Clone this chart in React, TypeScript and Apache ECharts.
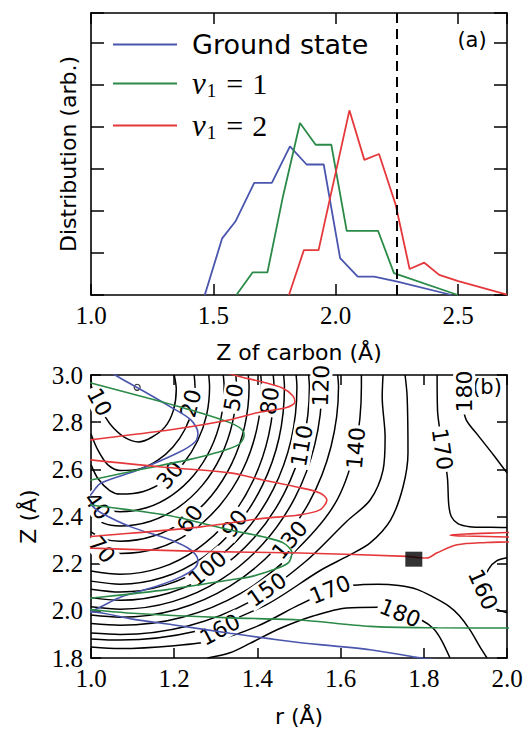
import React, { useEffect, useRef } from 'react';
import * as echarts from 'echarts';

// ---------- Panel (a): distributions vs Z of carbon ----------
const groundState: [number, number][] = [
  [1.465, 0], [1.536, 1.35], [1.59, 1.75], [1.667, 2.67], [1.739, 2.67], [1.813, 3.54],
  [1.881, 3.11], [1.951, 3.11], [2.018, 0.88], [2.09, 0.44], [2.157, 0.44], [2.252, 0.32], [2.474, 0],
];
const v1Equal1: [number, number][] = [
  [1.594, 0], [1.661, 0.54], [1.721, 0.54], [1.783, 2.31], [1.854, 4.1], [1.918, 3.58],
  [1.982, 3.58], [2.045, 1.53], [2.11, 1.53], [2.173, 1.53], [2.238, 0.52], [2.499, 0],
];
const v1Equal2: [number, number][] = [
  [1.809, 0], [1.87, 1.07], [1.93, 1.07], [2.056, 4.4], [2.117, 3.22], [2.177, 3.36],
  [2.245, 2.15], [2.302, 0.62], [2.362, 0.77], [2.423, 0.48], [2.501, 0.33], [2.7, 0.01],
];
const dashedZ = 2.25;
const legendNames = ['Ground state', 'v1 = 1', 'v1 = 2'];

// ---------- Panel (b): contour map (r, Z) ----------
const c10: [number, number][] = [[1.2, 3.0], [1.205, 2.94], [1.198, 2.85], [1.178, 2.78], [1.145, 2.735], [1.114, 2.716], [1.083, 2.733], [1.054, 2.775], [1.035, 2.82], [1.018, 2.88], [1.005, 2.935], [1.0, 2.955]];
const c20: [number, number][] = [[1.0, 2.75], [1.017, 2.68], [1.04, 2.62], [1.07, 2.595], [1.117, 2.602], [1.16, 2.638], [1.197, 2.695], [1.226, 2.77], [1.244, 2.857], [1.25, 2.95], [1.248, 3.0]];
const c30: [number, number][] = [[1.0, 2.62], [1.017, 2.56], [1.045, 2.51], [1.07, 2.495], [1.126, 2.506], [1.178, 2.552], [1.222, 2.625], [1.256, 2.72], [1.278, 2.831], [1.285, 2.95], [1.283, 3.0]];
const c40: [number, number][] = [[1.0, 2.49], [1.014, 2.45], [1.035, 2.43], [1.07, 2.42], [1.135, 2.438], [1.195, 2.491], [1.247, 2.575], [1.287, 2.685], [1.312, 2.813], [1.32, 2.95], [1.318, 3.0]];
const c50: [number, number][] = [[1.0, 2.41], [1.03, 2.372], [1.07, 2.36], [1.143, 2.38], [1.21, 2.439], [1.268, 2.533], [1.312, 2.655], [1.34, 2.797], [1.35, 2.95], [1.348, 3.0]];
const c60: [number, number][] = [[1.0, 2.335], [1.03, 2.305], [1.07, 2.295], [1.15, 2.317], [1.225, 2.383], [1.289, 2.487], [1.338, 2.623], [1.369, 2.78], [1.38, 2.95], [1.378, 3.0]];
const c70: [number, number][] = [[1.0, 2.285], [1.026, 2.258], [1.07, 2.243], [1.158, 2.264], [1.24, 2.335], [1.31, 2.448], [1.364, 2.595], [1.398, 2.766], [1.41, 2.95], [1.408, 3.0]];
const c80: [number, number][] = [[1.0, 2.169], [1.07, 2.155], [1.166, 2.182], [1.255, 2.262], [1.332, 2.388], [1.39, 2.553], [1.427, 2.744], [1.44, 2.95], [1.438, 3.0]];
const c90: [number, number][] = [[1.0, 2.126], [1.07, 2.113], [1.172, 2.141], [1.268, 2.225], [1.349, 2.358], [1.412, 2.532], [1.452, 2.733], [1.465, 2.95], [1.463, 3.0]];
const c100: [number, number][] = [[1.0, 2.092], [1.07, 2.08], [1.18, 2.11], [1.283, 2.197], [1.37, 2.335], [1.438, 2.515], [1.481, 2.725], [1.495, 2.95], [1.493, 3.0]];
const c110: [number, number][] = [[1.0, 2.056], [1.07, 2.045], [1.188, 2.076], [1.298, 2.166], [1.392, 2.31], [1.464, 2.497], [1.51, 2.716], [1.525, 2.95], [1.523, 3.0]];
const c120: [number, number][] = [[1.0, 2.017], [1.07, 2.007], [1.196, 2.039], [1.313, 2.133], [1.413, 2.283], [1.49, 2.479], [1.538, 2.706], [1.555, 2.95], [1.553, 3.0]];
const c130: [number, number][] = [[1.0, 1.982], [1.07, 1.973], [1.206, 2.006], [1.333, 2.104], [1.441, 2.259], [1.525, 2.462], [1.577, 2.697], [1.595, 2.95], [1.593, 3.0]];
const c140: [number, number][] = [[1.0, 1.946], [1.07, 1.939], [1.22, 1.973], [1.36, 2.074], [1.48, 2.235], [1.585, 2.45], [1.635, 2.69], [1.65, 2.95], [1.65, 3.0]];
const c150: [number, number][] = [[1.0, 1.906], [1.07, 1.9], [1.233, 1.936], [1.385, 2.041], [1.515, 2.208], [1.615, 2.38], [1.671, 2.47], [1.702, 2.597], [1.707, 2.737], [1.7, 2.907], [1.702, 3.0]];
const c160: [number, number][] = [[1.0, 1.881], [1.07, 1.876], [1.249, 1.912], [1.415, 2.02], [1.55, 2.17], [1.62, 2.235], [1.671, 2.288], [1.72, 2.385], [1.75, 2.525], [1.762, 2.67], [1.76, 2.907], [1.755, 3.0]];
const c170Low: [number, number][] = [[1.0, 1.847], [1.07, 1.84], [1.2, 1.852], [1.3, 1.875], [1.4, 1.935], [1.5, 2.025], [1.575, 2.085], [1.63, 2.108], [1.69, 2.113], [1.74, 2.107], [1.785, 2.09], [1.822, 2.059], [1.86, 2.02], [1.885, 1.98], [1.911, 1.919], [1.935, 1.847], [1.952, 1.8]];
const c180Low: [number, number][] = [[1.28, 1.8], [1.334, 1.822], [1.382, 1.862], [1.454, 1.925], [1.534, 1.978], [1.615, 2.012], [1.69, 2.015], [1.745, 1.995], [1.795, 1.96], [1.823, 1.925], [1.842, 1.877], [1.863, 1.8]];
const c170High: [number, number][] = [[1.832, 3.0], [1.833, 2.85], [1.84, 2.75], [1.85, 2.65], [1.857, 2.56], [1.86, 2.45], [1.866, 2.4], [1.882, 2.37], [1.91, 2.357], [1.96, 2.354], [2.0, 2.353]];
const c180High: [number, number][] = [[1.888, 3.0], [1.893, 2.88], [1.902, 2.81], [1.93, 2.745], [1.968, 2.66], [2.0, 2.585]];
const c160Right: [number, number][] = [[2.0, 2.225], [1.975, 2.212], [1.957, 2.18], [1.943, 2.12], [1.945, 2.06], [1.962, 2.02], [1.985, 2.0], [2.0, 1.992]];
const contourLines = [c10, c20, c30, c40, c50, c60, c70, c80, c90, c100, c110, c120, c130, c140, c150, c160, c170Low, c180Low, c170High, c180High, c160Right];

const labelTexts = ['10', '20', '30', '40', '50', '60', '70', '80', '90', '100', '110', '120', '130', '140', '150', '160', '170', '180', '170', '180', '160'];
const labelPositions: [number, number][] = [
  [1.02, 2.885], [1.24, 2.88], [1.19, 2.575], [1.015, 2.445], [1.343, 2.905], [1.238, 2.39], [1.026, 2.26],
  [1.43, 2.89], [1.345, 2.37], [1.28, 2.18], [1.507, 2.7], [1.553, 2.955], [1.478, 2.3], [1.637, 2.69],
  [1.423, 2.09], [1.31, 1.92], [1.575, 2.09], [1.743, 1.99], [1.844, 2.685], [1.897, 2.93], [1.942, 2.09],
];
const labelAngles = [-62, 75, 50, -55, 80, 55, -50, 82, 55, 40, 80, 88, 50, 85, 35, 28, 22, -22, -82, 90, -66];

const blueWave: [number, number][] = [
  [1.03, 3.04], [1.058, 3.0], [1.113, 2.945], [1.192, 2.864], [1.24, 2.81], [1.257, 2.754], [1.25, 2.716], [1.209, 2.67],
  [1.113, 2.597], [1.024, 2.542], [1.005, 2.505], [0.995, 2.475], [1.003, 2.445], [1.025, 2.415], [1.096, 2.356],
  [1.192, 2.3], [1.24, 2.258], [1.257, 2.216], [1.25, 2.182], [1.216, 2.144], [1.154, 2.102], [1.072, 2.059],
  [1.024, 2.017], [1.003, 2.0], [0.99, 1.995], [1.0, 1.995], [1.1, 1.965], [1.2, 1.94], [1.334, 1.905], [1.495, 1.867],
  [1.671, 1.835], [1.774, 1.805], [1.8, 1.798], [1.85, 1.79],
];
const greenWave: [number, number][] = [
  [0.97, 2.98], [1.0, 2.966], [1.154, 2.894], [1.264, 2.839], [1.335, 2.797], [1.362, 2.77], [1.368, 2.745], [1.355, 2.705],
  [1.3, 2.67], [1.233, 2.64], [1.113, 2.597], [1.0, 2.555], [0.97, 2.545],
  [0.97, 2.455], [1.0, 2.449], [1.183, 2.405], [1.334, 2.343], [1.413, 2.314], [1.462, 2.288], [1.483, 2.246],
  [1.474, 2.203], [1.438, 2.174], [1.382, 2.144], [1.334, 2.131], [1.183, 2.09], [1.0, 2.054], [0.97, 2.05],
  [0.97, 2.01], [1.0, 2.005], [1.1, 1.99], [1.334, 1.97], [1.495, 1.962], [1.671, 1.934], [1.832, 1.928], [2.0, 1.927], [2.03, 1.927],
];
const redWave: [number, number][] = [
  [1.3, 3.03], [1.343, 3.0], [1.413, 2.97], [1.46, 2.945], [1.485, 2.912], [1.49, 2.886], [1.47, 2.862], [1.4, 2.84],
  [1.334, 2.81], [1.2, 2.77], [1.0, 2.725], [0.97, 2.715],
  [0.97, 2.65], [1.0, 2.64], [1.17, 2.61], [1.334, 2.585], [1.413, 2.555], [1.495, 2.525], [1.55, 2.5], [1.567, 2.47],
  [1.55, 2.428], [1.495, 2.405], [1.413, 2.392], [1.26, 2.355], [1.0, 2.315], [0.97, 2.31],
  [0.97, 2.27], [1.0, 2.266], [1.263, 2.252], [1.503, 2.245], [1.76, 2.231], [1.79, 2.225], [1.808, 2.224], [1.832, 2.246],
  [1.88, 2.28], [1.95, 2.29], [2.0, 2.292], [2.03, 2.295],
  [2.03, 2.31], [2.0, 2.313], [1.9, 2.317], [1.863, 2.321], [1.9, 2.326], [2.0, 2.332], [2.03, 2.335],
];
const minPoint: [number, number] = [1.111, 2.948];
const squarePoint: [number, number] = [1.776, 2.219];

const BLUE = '#4a56ae';
const GREEN = '#2b8a48';
const RED = '#e5383b';
const SANS = '"DejaVu Sans", sans-serif';
const SERIF = '"Liberation Serif", serif';

const axisLineStyle = { show: true, onZero: false, lineStyle: { color: '#000', width: 1.6 } };
const tickStyle = (len: number) => ({ show: true, inside: true, length: len, lineStyle: { color: '#000', width: 1.5 } });
const tickLabel = { show: true, color: '#000', fontFamily: SERIF, fontSize: 25, margin: 8, formatter: (v: number) => v.toFixed(1) };
const nameStyle = { color: '#000', fontFamily: SANS, fontSize: 22 };

export default function App() {
  const ref = useRef<HTMLDivElement>(null);
  useEffect(() => {
    if (!ref.current) return;
    const chart = echarts.init(ref.current, null, { renderer: 'svg' });
    const contourSeries = contourLines.map((pts) => ({
      type: 'line', xAxisIndex: 2, yAxisIndex: 2, data: pts, symbol: 'none', smooth: 0.3, silent: true,
      lineStyle: { color: '#000', width: 1.5 }, z: 2,
    }));
    const option: any = {
      animation: false,
      backgroundColor: '#fff',
      grid: [
        { left: 91, top: 13, width: 416, height: 282 },
        { left: 91, top: 375, width: 416, height: 283 },
      ],
      xAxis: [
        { type: 'value', gridIndex: 0, min: 1.0, max: 2.7, interval: 0.5, position: 'bottom', axisLine: axisLineStyle, axisTick: tickStyle(11),
          axisLabel: { ...tickLabel, showMaxLabel: false }, splitLine: { show: false },
          name: 'Z of carbon (Å)', nameLocation: 'middle', nameGap: 46, nameTextStyle: nameStyle },
        { type: 'value', gridIndex: 0, min: 1.0, max: 2.7, interval: 0.5, position: 'top', axisLine: axisLineStyle, axisTick: tickStyle(11), axisLabel: { show: false }, splitLine: { show: false } },
        { type: 'value', gridIndex: 1, min: 1.0, max: 2.0, interval: 0.2, position: 'bottom', axisLine: axisLineStyle, axisTick: tickStyle(10), axisLabel: tickLabel, splitLine: { show: false },
          name: 'r (Å)', nameLocation: 'middle', nameGap: 47, nameTextStyle: nameStyle },
        { type: 'value', gridIndex: 1, min: 1.0, max: 2.0, interval: 0.2, position: 'top', axisLine: axisLineStyle, axisTick: tickStyle(10), axisLabel: { show: false }, splitLine: { show: false } },
      ],
      yAxis: [
        { type: 'value', gridIndex: 0, min: 0, max: 6.72, interval: 1, position: 'left', axisLine: axisLineStyle, axisTick: tickStyle(13), axisLabel: { show: false }, splitLine: { show: false },
          name: 'Distribution (arb.)', nameLocation: 'middle', nameGap: 12, nameTextStyle: nameStyle },
        { type: 'value', gridIndex: 0, min: 0, max: 6.72, interval: 1, position: 'right', axisLine: axisLineStyle, axisTick: tickStyle(13), axisLabel: { show: false }, splitLine: { show: false } },
        { type: 'value', gridIndex: 1, min: 1.8, max: 3.0, interval: 0.2, position: 'left', axisLine: axisLineStyle, axisTick: tickStyle(10), axisLabel: tickLabel, splitLine: { show: false },
          name: 'Z (Å)', nameLocation: 'middle', nameGap: 52, nameTextStyle: nameStyle },
        { type: 'value', gridIndex: 1, min: 1.8, max: 3.0, interval: 0.2, position: 'right', axisLine: axisLineStyle, axisTick: tickStyle(10), axisLabel: { show: false }, splitLine: { show: false } },
      ],
      legend: {
        data: legendNames, orient: 'vertical', left: 108, top: 26, itemWidth: 64, itemHeight: 2, itemGap: 9,
        icon: 'rect', selectedMode: false,
        formatter: (name: string) => name === 'Ground state' ? '{gs|Ground state}' : `{v|v}{s|1}{e|=}{n|${name.slice(-1)}}`,
        textStyle: {
          padding: [0, 0, 0, 10],
          rich: {
            gs: { fontFamily: SANS, fontSize: 27, color: '#000', lineHeight: 34 },
            v: { fontFamily: SERIF, fontStyle: 'italic', fontSize: 31, color: '#000', lineHeight: 34 },
            s: { fontFamily: SERIF, fontSize: 19, color: '#000', lineHeight: 20, padding: [14, 0, 0, 1] },
            e: { fontFamily: SERIF, fontSize: 30, color: '#000', lineHeight: 34, padding: [0, 9, 0, 10] },
            n: { fontFamily: SERIF, fontSize: 30, color: '#000', lineHeight: 34 },
          },
        },
      },
      graphic: [
        { type: 'text', x: 472, y: 40, style: { text: '(a)', font: `21px ${SANS}`, fill: '#000', align: 'center', verticalAlign: 'middle', textAlign: 'center', textVerticalAlign: 'middle' } },
        { type: 'text', x: 487, y: 387, style: { text: '(b)', font: `21px ${SANS}`, fill: '#000', align: 'center', verticalAlign: 'middle', textAlign: 'center', textVerticalAlign: 'middle' } },
      ],
      series: [
        { type: 'line', name: legendNames[0], xAxisIndex: 0, yAxisIndex: 0, data: groundState, symbol: 'none', color: BLUE, lineStyle: { color: BLUE, width: 1.8 }, z: 3 },
        { type: 'line', name: legendNames[1], xAxisIndex: 0, yAxisIndex: 0, data: v1Equal1, symbol: 'none', color: GREEN, lineStyle: { color: GREEN, width: 1.8 }, z: 3 },
        { type: 'line', name: legendNames[2], xAxisIndex: 0, yAxisIndex: 0, data: v1Equal2, symbol: 'none', color: RED, lineStyle: { color: RED, width: 1.8 }, z: 3,
          markLine: { silent: true, symbol: 'none', label: { show: false }, lineStyle: { color: '#000', type: [10, 6], width: 2 }, data: [{ xAxis: dashedZ }] } },
        ...contourSeries,
        { type: 'scatter', xAxisIndex: 2, yAxisIndex: 2, data: [minPoint], symbol: 'circle', symbolSize: 6, silent: true,
          itemStyle: { color: '#fff', borderColor: '#000', borderWidth: 1.2 }, z: 2 },
        { type: 'scatter', xAxisIndex: 2, yAxisIndex: 2, symbolSize: 0.01, silent: true, itemStyle: { color: '#fff', opacity: 1 }, z: 3,
          data: labelTexts.map((t, i) => ({ name: t, value: labelPositions[i], label: { rotate: labelAngles[i] } })),
          label: { show: true, position: 'inside', formatter: (p: any) => p.name, fontFamily: SANS, fontSize: 22, color: '#000', opacity: 1,
            textBorderWidth: 0, textBorderColor: 'transparent', backgroundColor: '#fff', padding: [0, 2] } },
        { type: 'line', xAxisIndex: 2, yAxisIndex: 2, data: blueWave, symbol: 'none', smooth: 0.3, silent: true, lineStyle: { color: BLUE, width: 1.6 }, z: 4 },
        { type: 'line', xAxisIndex: 2, yAxisIndex: 2, data: greenWave, symbol: 'none', smooth: 0.3, silent: true, lineStyle: { color: GREEN, width: 1.6 }, z: 4 },
        { type: 'line', xAxisIndex: 2, yAxisIndex: 2, data: redWave, symbol: 'none', smooth: 0.3, silent: true, lineStyle: { color: RED, width: 1.6 }, z: 4 },
        { type: 'scatter', xAxisIndex: 2, yAxisIndex: 2, data: [squarePoint], symbol: 'rect', symbolSize: [17, 15], silent: true, itemStyle: { color: '#000' }, z: 5 },
      ],
    };
    chart.setOption(option);
    return () => chart.dispose();
  }, []);
  return <div ref={ref} style={{ position: 'absolute', left: 0, top: 0, width: 530, height: 730, background: '#fff' }} />;
}
